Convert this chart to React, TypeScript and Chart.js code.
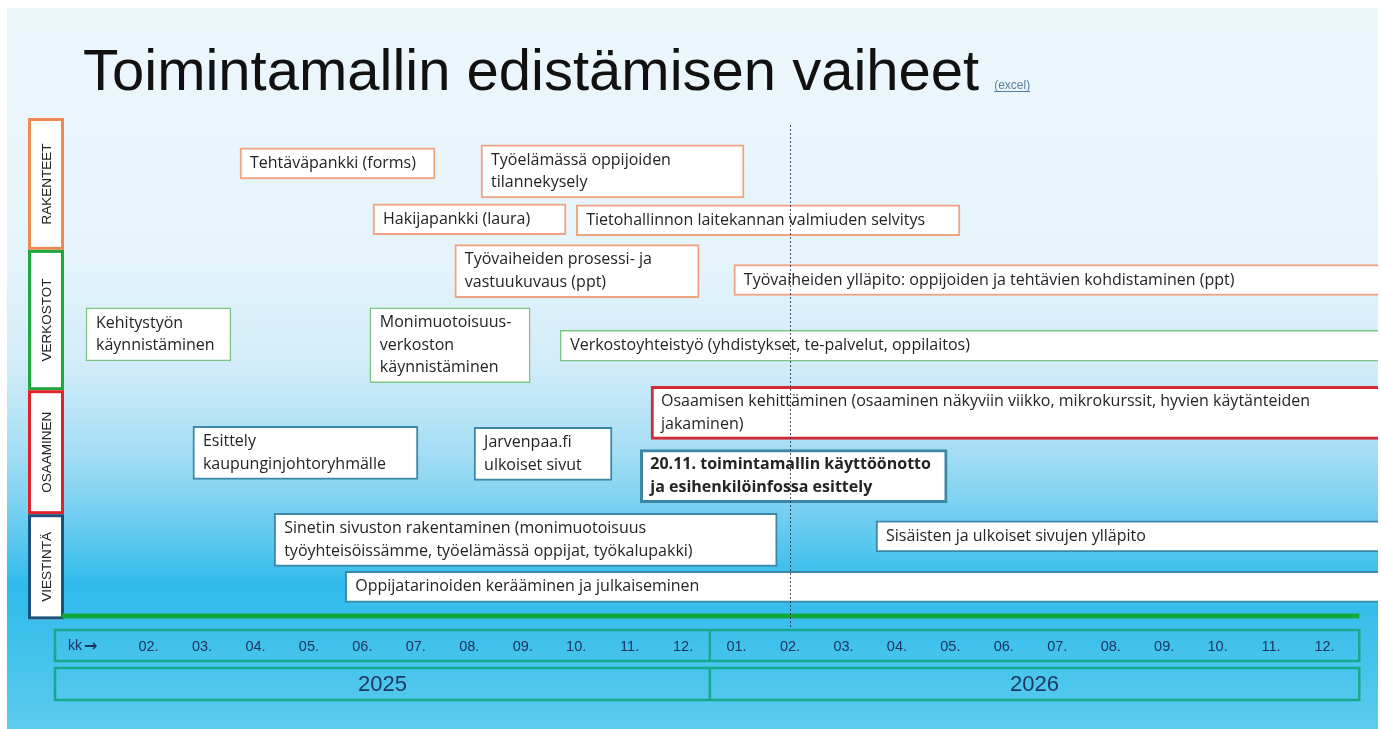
import { useEffect, useRef } from 'react';
import { Chart, registerables } from 'chart.js';

Chart.register(...registerables);

const chartTitle = 'Toimintamallin edistämisen vaiheet';
const sourceNote = '(excel)';

const groupNames = ['RAKENTEET', 'VERKOSTOT', 'OSAAMINEN', 'VIESTINTÄ'];
const groupLaneStart = [0, 2.67, 5.51, 8.02];
const groupLaneEnd = [2.67, 5.51, 8.02, 10.15];

const taskLabels: string[][] = [
  ['Tehtäväpankki (forms)'],
  ['Työelämässä oppijoiden', 'tilannekysely'],
  ['Hakijapankki (laura)'],
  ['Tietohallinnon laitekannan valmiuden selvitys'],
  ['Työvaiheiden prosessi- ja', 'vastuukuvaus (ppt)'],
  ['Työvaiheiden ylläpito: oppijoiden ja tehtävien kohdistaminen (ppt)'],
  ['Kehitystyön', 'käynnistäminen'],
  ['Monimuotoisuus-', 'verkoston', 'käynnistäminen'],
  ['Verkostoyhteistyö (yhdistykset, te-palvelut, oppilaitos)'],
  ['Osaamisen kehittäminen (osaaminen näkyviin viikko, mikrokurssit, hyvien käytänteiden', 'jakaminen)'],
  ['Esittely', 'kaupunginjohtoryhmälle'],
  ['Jarvenpaa.fi', 'ulkoiset sivut'],
  ['20.11. toimintamallin käyttöönotto', 'ja esihenkilöinfossa esittely'],
  ['Sinetin sivuston rakentaminen (monimuotoisuus', 'työyhteisöissämme, työelämässä oppijat, työkalupakki)'],
  ['Sisäisten ja ulkoiset sivujen ylläpito'],
  ['Oppijatarinoiden kerääminen ja julkaiseminen'],
];
const taskGroup = [0, 0, 0, 0, 0, 0, 1, 1, 1, 2, 3, 3, 3, 3, 3, 3];
const taskStart = [3.71, 8.22, 6.2, 10.0, 7.73, 12.95, 0.83, 6.14, 9.7, 11.4, 2.83, 8.09, 11.2, 4.35, 15.61, 5.68];
const taskEnd = [7.36, 13.14, 9.81, 17.18, 12.3, 25.5, 3.54, 9.14, 25.5, 25.5, 7.04, 10.67, 16.94, 13.76, 25.5, 25.5];
const taskLane = [0.92, 1.08, 2.05, 2.07, 3.1, 3.28, 4.38, 4.6, 4.61, 5.97, 6.78, 6.8, 7.25, 8.54, 8.47, 9.49];
const milestoneTask = 12;

const monthValues = [2, 3, 4, 5, 6, 7, 8, 9, 10, 11, 12, 13, 14, 15, 16, 17, 18, 19, 20, 21, 22, 23, 24];
const monthLabels = ['02.', '03.', '04.', '05.', '06.', '07.', '08.', '09.', '10.', '11.', '12.',
  '01.', '02.', '03.', '04.', '05.', '06.', '07.', '08.', '09.', '10.', '11.', '12.'];
const monthPrefix = 'kk';
const monthArrow = '→';
const yearLabels = ['2025', '2026'];
const yearEdges = [0.25, 12.5, 24.65];
const todayValue = 14;

const groupBorder = ['#ee8a50', '#1fa83c', '#e0232b', '#1d4f7c'];
const taskBorder = ['#f1a27f', '#7cc483', '#d52a36', '#3c88a6'];
const taskBorderWidth = [2, 1.5, 3, 2];

const SANS = '"Liberation Sans", Arial, sans-serif';
const BOX_FONT = '"Open Sans", sans-serif';

const roadmapPlugin: any = {
  id: 'roadmap',
  beforeDraw(chart: any) {
    const { ctx, scales } = chart;
    const x = scales.x;
    const y = scales.y;
    const W = chart.width;
    const H = chart.height;
    ctx.save();
    ctx.fillStyle = '#ffffff';
    ctx.fillRect(0, 0, W, H);
    const pL = 7, pT = 8, pR = x.right, pB = H;
    const g = ctx.createLinearGradient(0, pT, 0, pB);
    g.addColorStop(0, '#ecf7fc');
    g.addColorStop(0.35, '#e5f4fb');
    g.addColorStop(0.5, '#d0ecf8');
    g.addColorStop(0.62, '#a3ddf4');
    g.addColorStop(0.72, '#68ccf0');
    g.addColorStop(0.8, '#30bbec');
    g.addColorStop(0.88, '#40c1ec');
    g.addColorStop(1, '#5ccbee');
    ctx.fillStyle = g;
    ctx.fillRect(pL, pT, pR - pL, pB - pT);

    // title
    ctx.fillStyle = '#111111';
    ctx.font = '58px ' + SANS;
    ctx.textAlign = 'left';
    ctx.textBaseline = 'alphabetic';
    ctx.fillText(chartTitle, 83, 90);
    const tw = ctx.measureText(chartTitle).width;
    ctx.font = '12px ' + SANS;
    ctx.fillStyle = '#5b7fa0';
    const ex = 83 + tw + 15;
    ctx.fillText(sourceNote, ex, 89);
    const ew = ctx.measureText(sourceNote).width;
    ctx.strokeStyle = '#5b7fa0';
    ctx.lineWidth = 1;
    ctx.beginPath();
    ctx.moveTo(ex, 91.5);
    ctx.lineTo(ex + ew, 91.5);
    ctx.stroke();

    // group label boxes
    groupNames.forEach((name, i) => {
      const top = y.getPixelForValue(groupLaneStart[i]);
      const bot = y.getPixelForValue(groupLaneEnd[i]);
      const l = 28, r = 64;
      ctx.fillStyle = '#ffffff';
      ctx.fillRect(l, top, r - l, bot - top);
      ctx.strokeStyle = groupBorder[i];
      ctx.lineWidth = 3;
      ctx.strokeRect(l + 1.5, top + 1.5, r - l - 3, bot - top - 3);
      ctx.save();
      ctx.translate((l + r) / 2 + 1, (top + bot) / 2);
      ctx.rotate(-Math.PI / 2);
      ctx.fillStyle = '#222222';
      ctx.font = '13.5px ' + SANS;
      ctx.textAlign = 'center';
      ctx.textBaseline = 'middle';
      ctx.fillText(name, 0, 0);
      ctx.restore();
    });

    // time axis frames
    const fL = x.getPixelForValue(yearEdges[0]);
    const fM = x.getPixelForValue(yearEdges[1]);
    const fR = x.getPixelForValue(yearEdges[2]);
    const rowTop = y.bottom + 18, rowBot = y.bottom + 49;
    const yrTop = y.bottom + 56, yrBot = y.bottom + 88;
    ctx.strokeStyle = '#17a98c';
    ctx.lineWidth = 2.5;
    ctx.strokeRect(fL, rowTop, fR - fL, rowBot - rowTop);
    ctx.strokeRect(fL, yrTop, fR - fL, yrBot - yrTop);
    ctx.beginPath();
    ctx.moveTo(fM, rowTop);
    ctx.lineTo(fM, rowBot);
    ctx.moveTo(fM, yrTop);
    ctx.lineTo(fM, yrBot);
    ctx.stroke();

    ctx.fillStyle = '#1b3b63';
    ctx.font = '22px ' + SANS;
    ctx.textAlign = 'center';
    ctx.textBaseline = 'middle';
    ctx.fillText(yearLabels[0], (fL + fM) / 2, (yrTop + yrBot) / 2 + 1);
    ctx.fillText(yearLabels[1], (fM + fR) / 2, (yrTop + yrBot) / 2 + 1);

    ctx.font = '14px ' + SANS;
    ctx.textAlign = 'left';
    ctx.fillStyle = '#1a3560';
    const midRow = (rowTop + rowBot) / 2 + 1;
    ctx.fillText(monthPrefix, fL + 13, midRow);
    const kw = ctx.measureText(monthPrefix).width;
    ctx.font = 'bold 16px "DejaVu Sans", sans-serif';
    ctx.fillText(monthArrow, fL + 15 + kw, midRow);

    // green baseline
    ctx.strokeStyle = '#10a83c';
    ctx.lineWidth = 5;
    ctx.beginPath();
    ctx.moveTo(fL + 7, y.bottom + 4);
    ctx.lineTo(fR, y.bottom + 4);
    ctx.stroke();
    ctx.restore();
  },
  afterDatasetsDraw(chart: any) {
    const { ctx, chartArea, scales } = chart;
    const x = scales.x;
    ctx.save();
    ctx.beginPath();
    ctx.rect(chartArea.left, chartArea.top, chartArea.right - chartArea.left, chartArea.bottom - chartArea.top);
    ctx.clip();
    taskLabels.forEach((lines, i) => {
      const bar = chart.getDatasetMeta(i).data[0];
      const p = bar.getProps(['x', 'y', 'base'], true);
      const left = Math.min(p.x, p.base);
      ctx.font = (i === milestoneTask ? 'bold ' : '') + '16px ' + BOX_FONT;
      ctx.fillStyle = '#242424';
      ctx.textAlign = 'left';
      ctx.textBaseline = 'middle';
      lines.forEach((t, k) => {
        ctx.fillText(t, left + 10, p.y + (k - (lines.length - 1) / 2) * 22.5);
      });
    });
    ctx.restore();

    const tx = Math.round(x.getPixelForValue(todayValue)) + 0.5;
    ctx.save();
    ctx.strokeStyle = 'rgba(30,50,70,0.85)';
    ctx.lineWidth = 1;
    ctx.setLineDash([2, 2]);
    ctx.beginPath();
    ctx.moveTo(tx, chartArea.top + 7);
    ctx.lineTo(tx, chartArea.bottom + 16);
    ctx.stroke();
    ctx.restore();
  },
};

export default function App() {
  const canvasRef = useRef<HTMLCanvasElement | null>(null);

  useEffect(() => {
    if (!canvasRef.current) return;
    const datasets = taskLabels.map((lines, i) => {
      const grp = taskGroup[i];
      const ms = i === milestoneTask;
      return {
        label: lines.join(' '),
        data: [{ x: [taskStart[i], taskEnd[i]], y: taskLane[i] }],
        backgroundColor: '#ffffff',
        borderColor: taskBorder[grp],
        borderWidth: ms ? 3 : taskBorderWidth[grp],
        borderSkipped: false,
        barThickness: 9 + lines.length * 22,
        grouped: false,
        clip: 0,
      };
    });
    const chart = new Chart(canvasRef.current, {
      type: 'bar',
      data: { datasets: datasets as any },
      options: {
        indexAxis: 'y',
        animation: false,
        responsive: true,
        maintainAspectRatio: false,
        layout: { padding: { left: 55, right: 3, top: 118, bottom: 0 } },
        plugins: {
          legend: { display: false },
          tooltip: { enabled: false },
        },
        events: [],
        scales: {
          x: {
            type: 'linear',
            min: 0.25,
            max: 25,
            position: 'bottom',
            grid: { display: false, drawTicks: false },
            border: { display: false },
            afterFit: (scale: any) => {
              scale.height = 117;
            },
            afterBuildTicks: (scale: any) => {
              scale.ticks = monthValues.map((v) => ({ value: v }));
            },
            ticks: {
              autoSkip: false,
              maxRotation: 0,
              padding: 26,
              color: '#1a3560',
              font: { family: 'Liberation Sans', size: 14.5 },
              callback: (_v: any, idx: number) => monthLabels[idx],
            },
          },
          y: {
            type: 'linear',
            min: 0,
            max: 10,
            reverse: true,
            offset: false,
            display: false,
          },
        },
      } as any,
      plugins: [roadmapPlugin],
    });
    return () => chart.destroy();
  }, []);

  return (
    <div style={{ position: 'fixed', left: 0, top: 0, width: 1381, height: 729 }}>
      <canvas ref={canvasRef} />
    </div>
  );
}
